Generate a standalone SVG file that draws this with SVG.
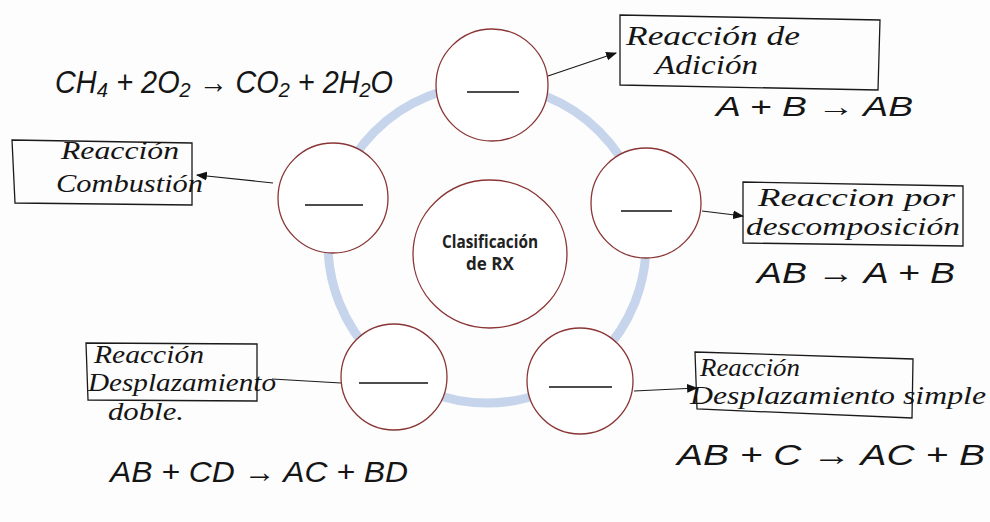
<svg xmlns="http://www.w3.org/2000/svg" width="990" height="522" viewBox="0 0 990 522">
<defs>
<marker id="ah" viewBox="0 0 10 10" refX="9" refY="5" markerWidth="11" markerHeight="11" markerUnits="userSpaceOnUse" orient="auto">
<path d="M0,1 L10,5 L0,9 z" fill="#111"/>
</marker>
<style>
.ring{fill:none;stroke:#c7d5ec;stroke-width:9}
.node{fill:#fff;stroke:#8a3535;stroke-width:1.3}
.dash{stroke:#111;stroke-width:1.6}
.box{fill:none;stroke:#1a1a1a;stroke-width:1.3}
.conn{fill:none;stroke:#1a1a1a;stroke-width:1.2}
.hw{font-family:"Liberation Serif","DejaVu Serif",serif;font-style:italic;fill:#151515}
.eq{font-family:"Liberation Sans","DejaVu Sans",sans-serif;font-style:italic;fill:#151515}
.ctr{font-family:"Open Sans",Lato,sans-serif;font-weight:bold;font-size:17px;fill:#222;text-anchor:middle}
</style>
</defs>
<rect width="990" height="522" fill="#fdfdfd"/>
<circle class="ring" cx="487" cy="244" r="159"/>

<g id="connectors">
<line class="conn" x1="548" y1="76" x2="616" y2="53" marker-end="url(#ah)"/>
<line class="conn" x1="273" y1="183" x2="197" y2="175" marker-end="url(#ah)"/>
<line class="conn" x1="702" y1="211" x2="743" y2="216" marker-end="url(#ah)"/>
<line class="conn" x1="341" y1="383" x2="272" y2="379"/>
<line class="conn" x1="634" y1="391" x2="697" y2="388" marker-end="url(#ah)"/>
</g>

<g id="center">
<ellipse class="node" cx="490" cy="254" rx="77" ry="74"/>
<text class="ctr" x="490" y="248" textLength="96" lengthAdjust="spacingAndGlyphs">Clasificación</text>
<text class="ctr" x="490" y="270">de RX</text>
</g>
<g id="node-top">
<circle class="node" cx="492" cy="85" r="56"/>
<line class="dash" x1="467" y1="92" x2="519" y2="92"/>
</g>
<g id="node-upper-left">
<circle class="node" cx="333" cy="198" r="55"/>
<line class="dash" x1="305" y1="205" x2="363" y2="205"/>
</g>
<g id="node-upper-right">
<circle class="node" cx="646" cy="203" r="55"/>
<line class="dash" x1="621" y1="211" x2="672" y2="211"/>
</g>
<g id="node-lower-left">
<circle class="node" cx="394" cy="377" r="53"/>
<line class="dash" x1="359" y1="383" x2="428" y2="383"/>
</g>
<g id="node-lower-right">
<circle class="node" cx="580" cy="381" r="53"/>
<line class="dash" x1="549" y1="387" x2="612" y2="387"/>
</g>

<g id="label-combustion">
<text class="eq" x="55" y="93" font-size="32" textLength="338" lengthAdjust="spacingAndGlyphs">CH₄ + 2O₂ → CO₂ + 2H₂O</text>
<polygon class="box" points="12,140 192,143 192,205 15,203"/>
<text class="hw" x="61" y="159" font-size="26" textLength="118" lengthAdjust="spacingAndGlyphs">Reacción</text>
<text class="hw" x="56" y="192" font-size="26" textLength="147" lengthAdjust="spacingAndGlyphs">Combustión</text>
</g>

<g id="label-adicion">
<polygon class="box" points="620,15 880,20 878,90 620,85"/>
<text class="hw" x="626" y="45" font-size="28" textLength="174" lengthAdjust="spacingAndGlyphs">Reacción de</text>
<text class="hw" x="655" y="74" font-size="28" textLength="103" lengthAdjust="spacingAndGlyphs">Adición</text>
<text class="eq" x="716" y="116" font-size="27" textLength="197" lengthAdjust="spacingAndGlyphs">A + B → AB</text>
</g>

<g id="label-descomposicion">
<polygon class="box" points="743,182 963,186 963,246 743,243"/>
<text class="hw" x="758" y="206" font-size="26" textLength="197" lengthAdjust="spacingAndGlyphs">Reaccion por</text>
<text class="hw" x="746" y="235" font-size="26" textLength="214" lengthAdjust="spacingAndGlyphs">descomposición</text>
<text class="eq" x="757" y="283" font-size="30" textLength="198" lengthAdjust="spacingAndGlyphs">AB → A + B</text>
</g>

<g id="label-doble">
<polygon class="box" points="86,343 257,344 257,401 88,400"/>
<text class="hw" x="94" y="363" font-size="25" textLength="110" lengthAdjust="spacingAndGlyphs">Reacción</text>
<text class="hw" x="88" y="391" font-size="26" textLength="188" lengthAdjust="spacingAndGlyphs">Desplazamiento</text>
<text class="hw" x="108" y="420" font-size="26" textLength="76" lengthAdjust="spacingAndGlyphs">doble.</text>
<text class="eq" x="110" y="482" font-size="30" textLength="298" lengthAdjust="spacingAndGlyphs">AB + CD → AC + BD</text>
</g>

<g id="label-simple">
<polygon class="box" points="695,352 913,359 912,418 697,409"/>
<text class="hw" x="700" y="376" font-size="25" textLength="100" lengthAdjust="spacingAndGlyphs">Reacción</text>
<text class="hw" x="690" y="404" font-size="26" textLength="296" lengthAdjust="spacingAndGlyphs">Desplazamiento simple</text>
<text class="eq" x="677" y="465" font-size="30" textLength="308" lengthAdjust="spacingAndGlyphs">AB + C → AC + B</text>
</g>
</svg>
